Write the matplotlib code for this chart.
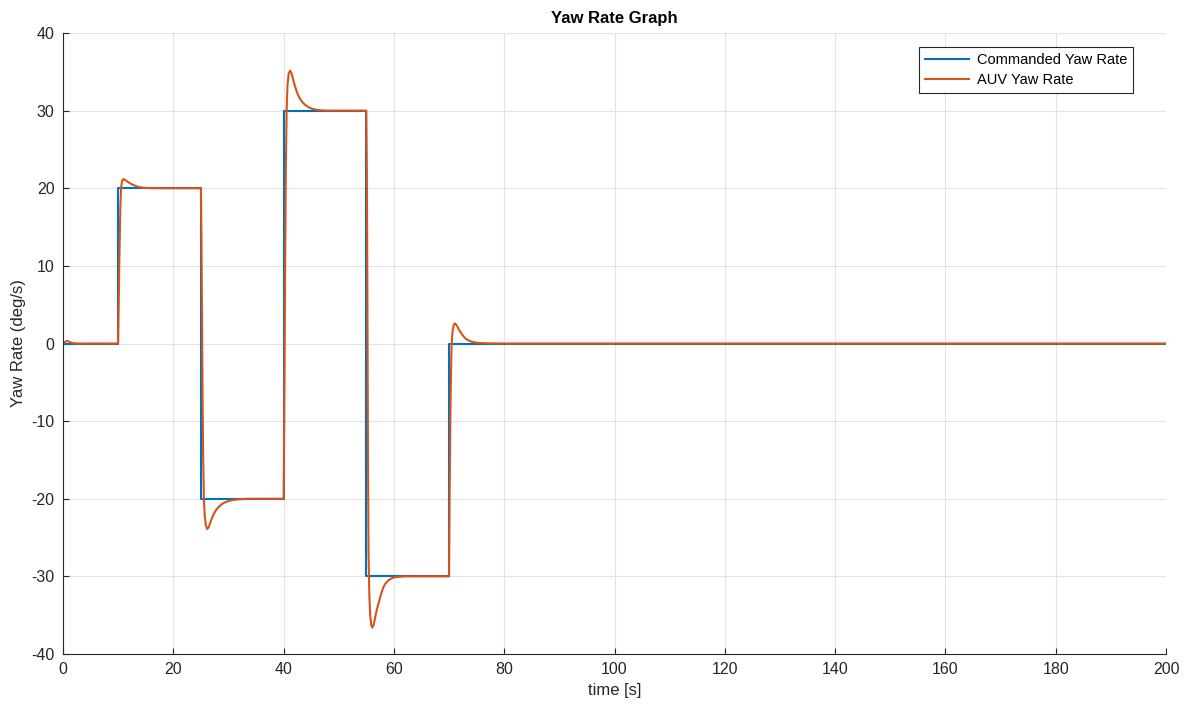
import matplotlib
matplotlib.use("Agg")
import matplotlib.pyplot as plt

# Commanded yaw rate (step changes)
cmd_t = [0, 10, 25, 40, 55, 70, 200]
cmd_v = [0, 20, -20, 30, -30, 0, 0]

# AUV yaw rate response
auv_t = [0, 0.3, 0.8, 1.3, 2.0, 3.0, 10.0,
         10.1, 10.2, 10.3, 10.4, 10.52, 10.7, 10.94, 11.2, 11.55, 11.85, 12.15, 12.6,
         13.06, 13.5, 13.96, 14.5, 15.2, 16.0, 17.0, 25.0,
         25.1, 25.2, 25.3, 25.4, 25.55, 25.7, 25.9, 26.15, 26.4, 26.65, 26.95, 27.25,
         27.55, 27.85, 28.3, 28.8, 29.4, 30.0, 30.9, 31.8, 33.0, 34.2, 40.0,
         40.1, 40.2, 40.3, 40.4, 40.55, 40.7, 40.9, 41.15, 41.4, 41.7, 42.0, 42.4,
         42.9, 43.4, 43.9, 44.5, 45.1, 46.0, 47.0, 48.0, 55.0,
         55.1, 55.2, 55.3, 55.4, 55.55, 55.7, 55.9, 56.1, 56.35, 56.6, 56.9, 57.2,
         57.5, 57.8, 58.1, 58.4, 59.0, 59.6, 60.2, 61.0, 62.0, 70.0,
         70.1, 70.2, 70.3, 70.4, 70.48, 70.65, 70.85, 71.08, 71.35, 71.68, 72.0,
         72.29, 72.7, 73.2, 73.8, 74.4, 75.2, 76.2, 78.0, 80.0, 200.0]
auv_v = [0, 0.2, 0.35, 0.15, 0.03, 0, 0,
         5, 10, 14, 17.5, 20, 20.9, 21.2, 21.1, 20.93, 20.78, 20.64, 20.47,
         20.33, 20.21, 20.13, 20.07, 20.04, 20.01, 20.0, 20.0,
         14, 4, -6, -14, -20, -22.2, -23.4, -23.9, -23.7, -23.2, -22.6, -22.1,
         -21.7, -21.35, -21.0, -20.7, -20.45, -20.3, -20.15, -20.08, -20.02, -20.0, -20.0,
         -12, 0, 12, 22, 30, 33.2, 34.7, 35.15, 34.9, 34.1, 33.3, 32.4,
         31.6, 31.1, 30.75, 30.45, 30.25, 30.1, 30.03, 30.0, 30.0,
         22, 5, -15, -27, -32.5, -35, -36.3, -36.6, -36.2, -35.3, -34.3, -33.5,
         -32.7, -32.0, -31.4, -31.0, -30.5, -30.25, -30.1, -30.05, -30.0, -30.0,
         -20, -12, -6, -2, 0, 1.7, 2.4, 2.6, 2.35, 1.95, 1.55,
         1.22, 0.85, 0.53, 0.3, 0.17, 0.08, 0.04, 0.01, 0, 0]

x_ticks = list(range(0, 201, 20))
y_ticks = list(range(-40, 41, 10))

plt.rcParams['font.family'] = ['Liberation Sans', 'DejaVu Sans']
plt.rcParams['axes.unicode_minus'] = False

fig = plt.figure(figsize=(11.9, 7.05), dpi=100)
ax = fig.add_axes([63/1190, 51/705, (1166-63)/1190, (654-33)/705])

ax.plot(cmd_t, cmd_v, drawstyle='steps-post', color='#0072BD', lw=1.5,
        label='Commanded Yaw Rate')
ax.plot(auv_t, auv_v, color='#D95319', lw=1.5, label='AUV Yaw Rate')

ax.set_xlim(0, 200)
ax.set_ylim(-40, 40)
ax.set_xticks(x_ticks)
ax.set_yticks(y_ticks)
ax.grid(True, color='#e3e3e3', lw=0.8)
ax.set_axisbelow(True)

for s in ['top', 'right']:
    ax.spines[s].set_visible(False)
for s in ['left', 'bottom']:
    ax.spines[s].set_color('#262626')
    ax.spines[s].set_linewidth(0.8)
ax.tick_params(direction='in', length=4, width=0.8, colors='#262626',
               labelsize=11.5, pad=6)

ax.set_xlabel('time [s]', fontsize=12, color='#262626', labelpad=4)
ax.set_ylabel('Yaw Rate (deg/s)', fontsize=12, color='#262626', labelpad=4)
ax.set_title('Yaw Rate Graph', fontsize=12, fontweight='bold', color='black', pad=7)

leg = ax.legend(loc='upper right',
                bbox_to_anchor=((1133-63)/(1166-63), (654-47)/(654-33)),
                bbox_transform=ax.transAxes, fontsize=10.5, frameon=True,
                fancybox=False, handlelength=3.0, borderpad=0.4, labelspacing=0.4,
                handletextpad=0.55, borderaxespad=0)
leg.get_frame().set_edgecolor('#262626')
leg.get_frame().set_linewidth(0.8)
leg.get_frame().set_alpha(1)

fig.savefig('out.png', dpi=100)
